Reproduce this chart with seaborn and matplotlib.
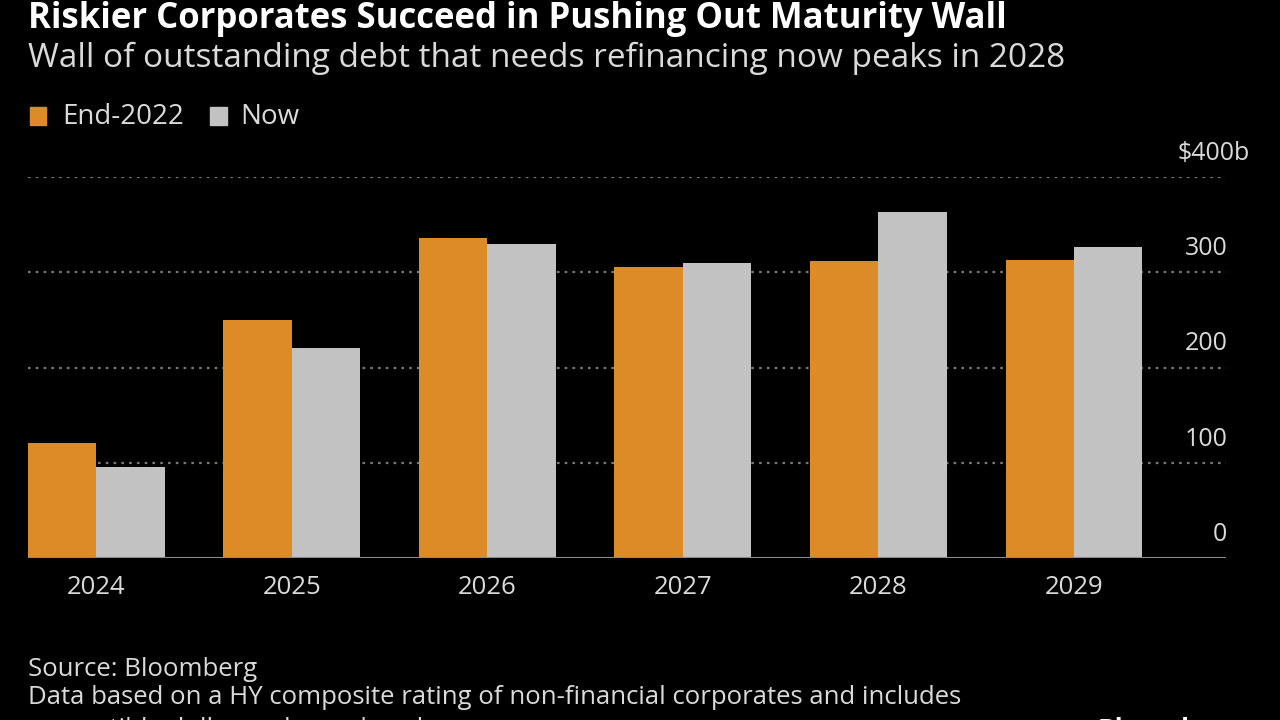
import matplotlib
matplotlib.use("Agg")
import matplotlib.pyplot as plt
import seaborn as sns
import pandas as pd
from matplotlib.patches import Rectangle

years = ["2024", "2025", "2026", "2027", "2028", "2029"]
end_2022 = [121, 250, 336, 305, 312, 313]
now = [96, 220, 330, 310, 363, 326]
series_names = ["End-2022", "Now"]
y_ticks = [0, 100, 200, 300, 400]
y_tick_labels = ["0", "100", "200", "300", "$400b"]

df = pd.DataFrame({
    "year": years * 2,
    "value": end_2022 + now,
    "series": [series_names[0]] * len(years) + [series_names[1]] * len(years),
})

sns.set_theme(style="dark")
plt.rcParams["font.family"] = ["Open Sans", "DejaVu Sans"]

BG = "#000000"
ORANGE = "#DD8B26"
GREY = "#C2C2C2"
TXT = "#DADADA"

fig = plt.figure(figsize=(12.8, 7.2), dpi=100, facecolor=BG)
ax = fig.add_axes([28 / 1280, 1 - 558 / 720, (1226 - 28) / 1280, (558 - 177) / 720])
ax.set_facecolor(BG)

sns.barplot(data=df, x="year", y="value", hue="series",
            palette=[ORANGE, GREY], width=0.7, saturation=1,
            legend=False, ax=ax, zorder=3, linewidth=0)

ax.set_xlim(-0.348, 5.777)
ax.set_ylim(0, 400)
ax.set_xlabel("")
ax.set_ylabel("")

for v in y_ticks[1:]:
    ax.axhline(v, color="#777777", linestyle=(0, (1.2, 2.3)), linewidth=1.6, zorder=1)
ax.axhline(0, color="#8A8A8A", linewidth=1.5, zorder=4)

ax.set_yticks([])
for v, lab in zip(y_ticks, y_tick_labels):
    dx = 17 if lab.endswith("b") else 1
    ax.annotate(lab, xy=(1.0, v), xycoords=("axes fraction", "data"),
                xytext=(dx, 17), textcoords="offset points",
                ha="right", va="center", color=TXT, fontsize=18)

ax.tick_params(axis="x", colors=TXT, labelsize=18.5, length=0, pad=12)
for s in ax.spines.values():
    s.set_visible(False)

fig.text(28 / 1280, 1 - 19 / 720, "Riskier Corporates Succeed in Pushing Out Maturity Wall",
         color="white", fontsize=25, fontweight="bold", va="center", ha="left")
fig.text(28 / 1280, 1 - 58 / 720, "Wall of outstanding debt that needs refinancing now peaks in 2028",
         color=TXT, fontsize=24, va="center", ha="left")

# legend
fig.patches.append(Rectangle((30 / 1280, 1 - 125 / 720), 16 / 1280, 18 / 720,
                             transform=fig.transFigure, color=ORANGE))
fig.text(62 / 1280, 1 - 117 / 720, series_names[0], color=TXT, fontsize=20, va="center")
fig.patches.append(Rectangle((210 / 1280, 1 - 125 / 720), 17 / 1280, 18 / 720,
                             transform=fig.transFigure, color=GREY))
fig.text(240 / 1280, 1 - 117 / 720, series_names[1], color=TXT, fontsize=20, va="center")

# footer
fig.text(28 / 1280, 1 - 669 / 720, "Source: Bloomberg", color=TXT, fontsize=18.5, va="center")
fig.text(28 / 1280, 1 - 698 / 720,
         "Data based on a HY composite rating of non-financial corporates and includes",
         color=TXT, fontsize=18.5, va="center")
fig.text(28 / 1280, 1 - 729 / 720, "convertible dollar and euro bonds",
         color=TXT, fontsize=18.5, va="center")
fig.text(1240 / 1280, 1 - 730 / 720, "Bloomberg", color="white", fontsize=19,
         fontweight="bold", va="center", ha="right")

fig.savefig("out.png", dpi=100, facecolor=BG)
